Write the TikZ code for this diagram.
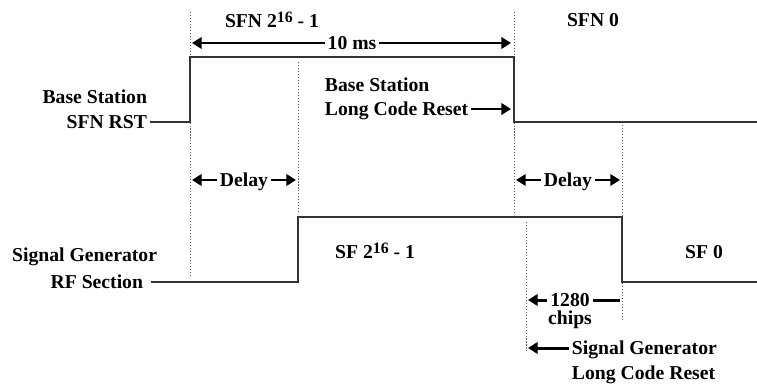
\documentclass[tikz,border=0pt]{standalone}
\usepackage{fontspec}
\setmainfont{Liberation Serif}
\usetikzlibrary{arrows.meta,positioning,calc}
\newcommand{\supnum}[1]{\raisebox{0.55ex}{\fontsize{9}{9}\selectfont #1}}

\begin{document}
\begin{tikzpicture}[x=0.02cm, y=-0.02cm,
    lbl/.style={font=\fontsize{11.2}{14}\selectfont\bfseries,
                inner sep=1.5pt, text height=7.4pt, text depth=0pt},
    sig/.style={draw=black!80, line width=0.9pt},
    guide/.style={draw=black!60, line width=0.55pt,
                  dash pattern=on 0.6pt off 1.1pt},
    arr/.style={line width=1.7pt, -{Triangle[length=5.5pt,width=6.5pt]}},
    bar/.style={line width=1.7pt}]

    \useasboundingbox (0,0) rectangle (757,386);

    %% ── dotted time marks ────────────────────────────
    \foreach \xx/\ya/\yb in {190/12/277, 298/62/213, 514/12/213,
                             622/125/322, 526/222/352}{
      \draw[guide] (\xx,\ya) -- (\xx,\yb);
    }

    %% ── base station waveform ────────────────────────
    \node[lbl, anchor=east] (bsTop) at (150,97) {Base Station};
    \node[lbl, anchor=east] (bsRst) at (150,122) {SFN RST};
    \draw[sig] (bsRst.east) -- (190,122) -- (190,57)
      -- (514,57) -- (514,122) -- (757,122);

    %% frame numbers
    \node[lbl] (sfnLast) at (272,21) {SFN 2\supnum{16} - 1};
    \node[lbl] (sfnZero) at (593,20) {SFN 0};

    %% 10 ms span
    \coordinate (msL) at (192,43);
    \coordinate (msR) at (511,43);
    \node[lbl] (tenMs) at (352,43) {10 ms};
    \draw[arr] (tenMs.west) -- (msL);
    \draw[arr] (tenMs.east) -- (msR);

    %% long code reset of the base station
    \node[lbl, anchor=west] (bsLcA) at (322,85) {Base Station};
    \node[lbl, anchor=west] (bsLcB) at (322,109) {Long Code Reset};
    \coordinate (bsLcTip) at (511,109);
    \draw[arr] (bsLcB.east) -- (bsLcTip);

    %% ── delays ───────────────────────────────────────
    \foreach \nm/\xa/\xb in {dlyA/190/298, dlyB/514/622}{
      \node[lbl] (\nm) at ({(\xa+\xb)/2},180) {Delay};
      \coordinate (\nm L) at (\xa+2,180);
      \coordinate (\nm R) at (\xb-2,180);
      \draw[arr] (\nm.west) -- (\nm L);
      \draw[arr] (\nm.east) -- (\nm R);
    }

    %% ── signal generator waveform ────────────────────
    \node[lbl, anchor=east] (sgTop) at (160,255) {Signal Generator};
    \node[lbl, anchor=east] (sgRf) at (146,282) {RF Section};
    \draw[sig] ([xshift=3pt]sgRf.east) -- (298,282) -- (298,217)
      -- (622,217) -- (622,282) -- (757,282);

    \node[lbl] (sfLast) at (375,252) {SF 2\supnum{16} - 1};
    \node[lbl] (sfZero) at (704,252) {SF 0};

    %% 1280 chips
    \node[lbl] (chipN) at (570,300) {1280};
    \node[lbl] (chipT) at (570,318) {chips};
    \coordinate (chipL) at (528,300);
    \coordinate (chipR) at (620,300);
    \draw[arr] (chipN.west) -- (chipL);
    \draw[bar] (chipN.east) -- (chipR);

    %% long code reset of the signal generator
    \node[lbl, anchor=west] (sgLcA) at (569,348) {Signal Generator};
    \node[lbl, anchor=west] (sgLcB) at (569,373) {Long Code Reset};
    \coordinate (sgLcTip) at (528,348);
    \draw[arr] (sgLcA.west) -- (sgLcTip);

  \end{tikzpicture}
\end{document}
